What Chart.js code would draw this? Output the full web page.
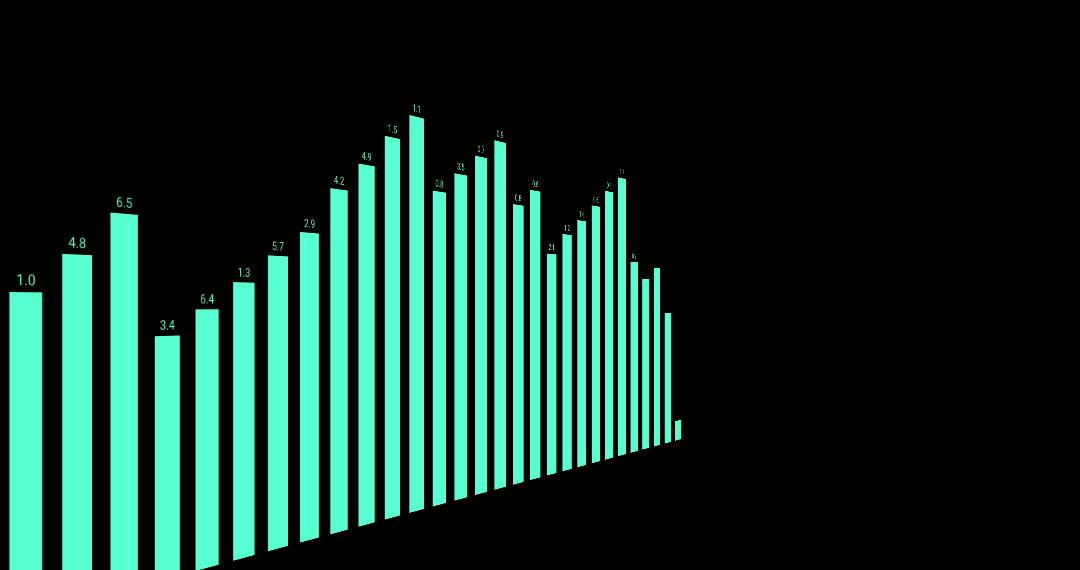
<!DOCTYPE html>
<html>
<head>
<meta charset="utf-8">
<script src="https://cdn.jsdelivr.net/npm/chart.js@4"></script>
<style>
    html, body { margin: 0; padding: 0; background: #000; width: 1080px; height: 570px; overflow: hidden; }
    #wrap { position: absolute; left: 0; top: 0; width: 1080px; height: 570px; overflow: hidden; }
    #barChart { position: absolute; left: 0; top: 0; transform-origin: 0 0; }
</style>
</head>
<body>
<div id="wrap"><canvas id="barChart" width="1560" height="660"></canvas></div>
<script>
// Bar heights (flat, before the perspective tilt) and the labels printed above them
const categories = ['1','2','3','4','5','6','7','8','9','10','11','12','13','14','15',
    '16','17','18','19','20','21','22','23','24','25','26','27','28','29'];
const values = [3.25, 3.65, 4.12, 2.77, 3.07, 3.40, 3.75, 4.08, 4.71, 5.11, 5.58, 5.97, 4.89, 5.22, 5.57,
    5.90, 4.87, 5.17, 4.06, 4.45, 4.75, 5.08, 5.42, 5.75, 4.03, 3.68, 3.94, 2.94, 0.45];
const barLabels = ['1.0', '4.8', '6.5', '3.4', '6.4', '1.3', '5.7', '2.9', '4.2', '4.9', '1.5', '1.1', '0.8', '3.5', '0.7',
    '0.9', '0.8', '0.6', '2.1', '1.2', '1.6', '0.6', '0.3', '1.2', '0.2', '', '', '', ''];

const barColor = '#57ffd1';
const labelColor = '#66eec6';

// draws the value label on top of every bar
const topLabels = {
    id: 'topLabels',
    afterDatasetsDraw(chart) {
        const ctx = chart.ctx;
        const meta = chart.getDatasetMeta(0);
        ctx.save();
        ctx.fillStyle = labelColor;
        ctx.font = '14px Roboto';
        ctx.textAlign = 'center';
        ctx.textBaseline = 'alphabetic';
        meta.data.forEach((bar, i) => {
            if (barLabels[i]) ctx.fillText(barLabels[i], bar.x, bar.y - 7);
        });
        ctx.restore();
    }
};

const canvas = document.getElementById('barChart');
new Chart(canvas.getContext('2d'), {
    type: 'bar',
    data: {
        labels: categories,
        datasets: [{
            data: values,
            backgroundColor: barColor,
            borderWidth: 0,
            barPercentage: 0.61,
            categoryPercentage: 1
        }]
    },
    options: {
        responsive: false,
        animation: false,
        devicePixelRatio: 1,
        layout: { padding: 0 },
        plugins: { legend: { display: false }, tooltip: { enabled: false } },
        scales: {
            x: { display: false, offset: true },
            y: { display: false, min: 0, max: 6.6 }
        }
    },
    plugins: [topLabels]
});

// perspective tilt: flat chart -> receding row of bars
(function applyTilt() {
    const W = canvas.width, H = canvas.height;
    const P = W / categories.length;      // flat spacing per bar
    const X0 = P / 2;
    const a = 55, b = 26, g = 0.04677;    // screen x = (a*i + b) / (g*i + 1)
    const d = 14.25, f = 617.2;           // baseline y = (d*i + f) / (g*i + 1)
    const h11 = a / P, h13 = b - a * X0 / P;
    const h21 = d / P, h22 = 1, h23 = f - H - d * X0 / P;
    const h31 = g / P, h33 = 1 - g * X0 / P;
    canvas.style.transform = `matrix3d(${h11},${h21},0,${h31},0,${h22},0,0,0,0,1,0,${h13},${h23},0,${h33})`;
})();
</script>
</body>
</html>
